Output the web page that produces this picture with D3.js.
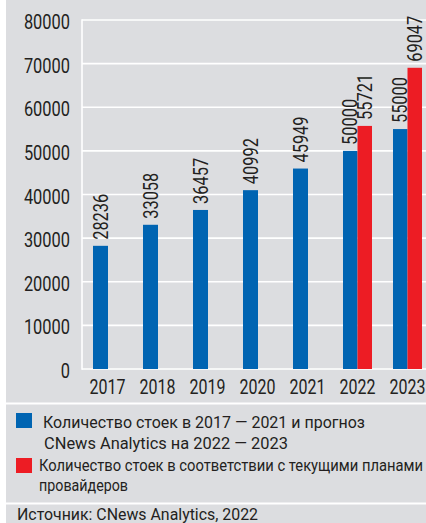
<!DOCTYPE html>
<html>
<head>
<meta charset="utf-8">
<script src="https://cdn.jsdelivr.net/npm/d3@7/dist/d3.min.js"></script>
<style>
  html, body { margin: 0; padding: 0; background: #ffffff; }
  svg { display: block; }
  text { font-family: "Roboto", "DejaVu Sans Condensed", sans-serif; fill: #231f20; }
</style>
</head>
<body>
<svg id="chart" width="426" height="523"></svg>
<script>
const years = ["2017", "2018", "2019", "2020", "2021", "2022", "2023"];
const blueValues = [28236, 33058, 36457, 40992, 45949, 50000, 55000];
const redValues = [null, null, null, null, null, 55721, 69047];
const yTicks = [0, 10000, 20000, 30000, 40000, 50000, 60000, 70000, 80000];
const legendBlue = ["Количество стоек в 2017 — 2021 и прогноз", "CNews Analytics на 2022 — 2023"];
const legendRed = ["Количество стоек в соответствии с текущими планами", "провайдеров"];
const sourceText = "Источник: CNews Analytics, 2022";

const colors = { bg: "#dcdde0", blue: "#0064b2", red: "#ed1c24", grid: "#ffffff" };

const svg = d3.select("#chart");
const W = 426, H = 523;
const condense = 0.82;

function squeeze(sel) {
  sel.each(function () {
    const w = this.getComputedTextLength();
    d3.select(this).attr("textLength", w * condense).attr("lengthAdjust", "spacingAndGlyphs");
  });
}

svg.append("rect").attr("x", 6).attr("y", 0).attr("width", W - 6).attr("height", H).attr("fill", colors.bg);

const plotLeft = 82, plotRight = 426, plotTop = 20, plotBottom = 369;
const y = d3.scaleLinear().domain([0, 80000]).range([plotBottom, plotTop]);
const step = 50, pIn = 0.42;
const xs = d3.scaleBand().domain(years).range([93, 93 + step * (years.length - pIn)])
  .paddingInner(pIn).paddingOuter(0).align(0);
const bw = 14.5;

svg.append("g").selectAll("line").data(yTicks).join("line")
  .attr("x1", plotLeft).attr("x2", plotRight)
  .attr("y1", d => y(d)).attr("y2", d => y(d))
  .attr("stroke", colors.grid).attr("stroke-width", 1.6);
svg.append("line").attr("x1", plotLeft).attr("x2", plotLeft).attr("y1", y(80000) - 0.8).attr("y2", y(0) + 0.8)
  .attr("stroke", colors.grid).attr("stroke-width", 1.6);

svg.append("g").selectAll("text").data(yTicks).join("text")
  .attr("x", 70).attr("y", d => y(d) + 9)
  .attr("text-anchor", "end").attr("font-size", 20)
  .text(d => d)
  .call(squeeze);

svg.append("g").selectAll("rect").data(years).join("rect")
  .attr("x", d => xs(d))
  .attr("y", (d, i) => y(blueValues[i]))
  .attr("width", (d, i) => redValues[i] == null ? 15 : bw)
  .attr("height", (d, i) => y(0) - y(blueValues[i]))
  .attr("fill", colors.blue);
const redYears = years.filter((d, i) => redValues[i] != null);
svg.append("g").selectAll("rect").data(redYears).join("rect")
  .attr("x", d => xs(d) + bw)
  .attr("y", d => y(redValues[years.indexOf(d)]))
  .attr("width", xs.bandwidth() - bw)
  .attr("height", d => y(0) - y(redValues[years.indexOf(d)]))
  .attr("fill", colors.red);

function valueLabel(cx, val) {
  svg.append("text")
    .attr("transform", `translate(${cx},${y(val) - 6}) rotate(-90)`)
    .attr("dy", "0.36em")
    .attr("font-size", 20)
    .attr("text-anchor", "start")
    .text(val)
    .call(squeeze);
}
years.forEach((d, i) => {
  const hasRed = redValues[i] != null;
  valueLabel(xs(d) + (hasRed ? bw : 15) / 2, blueValues[i]);
  if (hasRed) valueLabel(xs(d) + bw + (xs.bandwidth() - bw) / 2, redValues[i]);
});

svg.append("g").selectAll("text").data(years).join("text")
  .attr("x", d => xs(d) + xs.bandwidth() / 2)
  .attr("y", 394)
  .attr("text-anchor", "middle").attr("font-size", 19.5)
  .text(d => d)
  .call(squeeze);

svg.append("line").attr("x1", 6).attr("x2", W).attr("y1", 403.5).attr("y2", 403.5).attr("stroke", "#fff").attr("stroke-width", 2);
svg.append("line").attr("x1", 6).attr("x2", W).attr("y1", 503.5).attr("y2", 503.5).attr("stroke", "#fff").attr("stroke-width", 2);

const lg = svg.append("g");
lg.append("rect").attr("x", 16).attr("y", 413).attr("width", 16).attr("height", 15).attr("fill", colors.blue);
lg.append("rect").attr("x", 16).attr("y", 458).attr("width", 16).attr("height", 15).attr("fill", colors.red);
const fs = 16.5;
const legendLines = [
  { t: legendBlue[0], x: 43, y: 428, w: 322 },
  { t: legendBlue[1], x: 44, y: 449, w: 244 },
  { t: legendRed[0], x: 39, y: 471, w: 384 },
  { t: legendRed[1], x: 39, y: 491, w: 89 },
  { t: sourceText, x: 17, y: 520, w: 241 }
];
lg.selectAll("text").data(legendLines).join("text")
  .attr("x", d => d.x).attr("y", d => d.y).attr("font-size", fs)
  .attr("textLength", d => d.w).attr("lengthAdjust", "spacingAndGlyphs")
  .text(d => d.t);
</script>
</body>
</html>
